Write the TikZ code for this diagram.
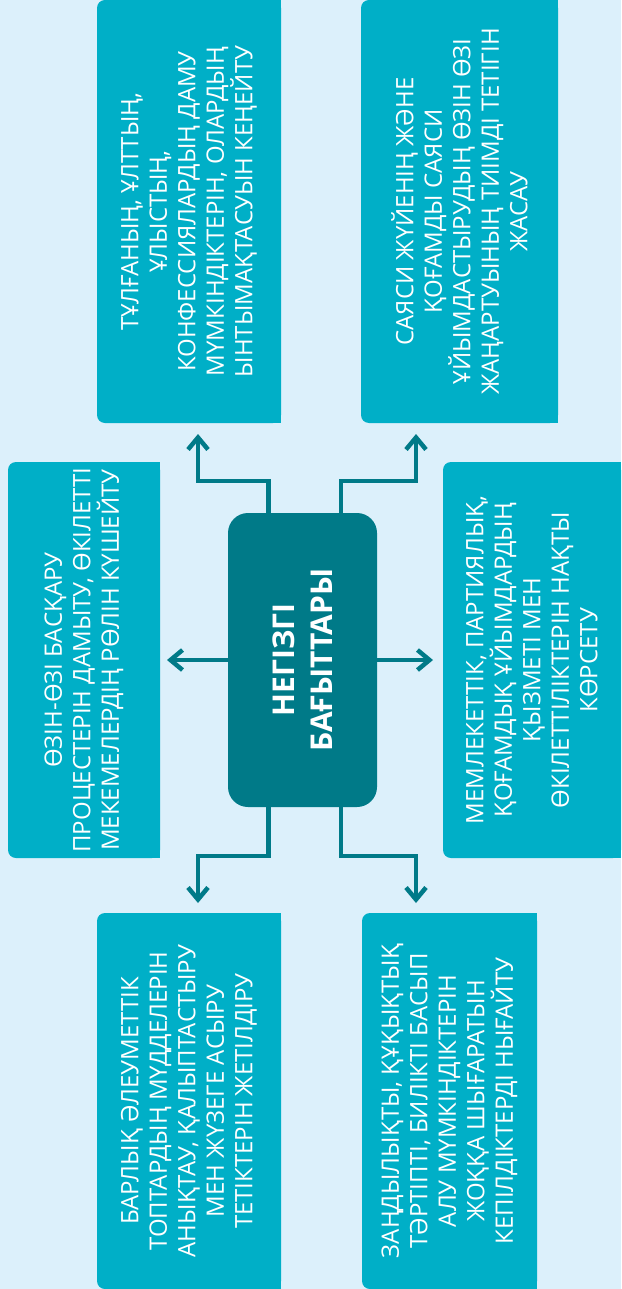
\documentclass[tikz,border=0pt]{standalone}
\usepackage{fontspec}
\setmainfont{Open Sans}
\usetikzlibrary{arrows.meta,backgrounds}
\definecolor{pagecol}{HTML}{DCF0FB}
\definecolor{boxcol}{HTML}{00AFC7}
\definecolor{hubcol}{HTML}{007A88}

\begin{document}
\begin{tikzpicture}[x=1pt,y=-1pt,
  dir/.style={fill=boxcol,rounded corners=8pt,rotate=90,text=white,align=center,
    inner sep=0pt,outer sep=0pt,font=\fontsize{24}{28.5}\selectfont},
  hub/.style={fill=hubcol,rounded corners=20pt,rotate=90,text=white,align=center,
    inner sep=0pt,outer sep=0pt,font=\fontsize{30}{38}\selectfont\bfseries},
  link/.style={draw=hubcol,line width=4.5pt,-{Straight Barb[length=12pt,width=20pt]}}]
  \useasboundingbox (0,0) rectangle (621,1289);

  \node[hub,minimum width=294pt,minimum height=149pt] (hub) at (302.5,660) {НЕГІЗГІ\\БАҒЫТТАРЫ};

  \node[dir,minimum width=423pt,minimum height=184pt] (tl) at (189,211.5)
    {ТҰЛҒАНЫҢ, ҰЛТТЫҢ,\\ҰЛЫСТЫҢ,\\КОНФЕССИЯЛАРДЫҢ ДАМУ\\МҮМКІНДІКТЕРІН, ОЛАРДЫҢ\\ЫНТЫМАҚТАСУЫН КЕҢЕЙТУ};
  \node[dir,minimum width=423pt,minimum height=197pt] (tr) at (459.5,211.5)
    {САЯСИ ЖҮЙЕНІҢ ЖӘНЕ\\ҚОҒАМДЫ САЯСИ\\ҰЙЫМДАСТЫРУДЫҢ ӨЗІН ӨЗІ\\ЖАҢАРТУЫНЫҢ ТИІМДІ ТЕТІГІН\\ЖАСАУ};
  \node[dir,minimum width=396pt,minimum height=152pt] (ml) at (84,660)
    {ӨЗІН-ӨЗІ БАСҚАРУ\\ПРОЦЕСТЕРІН ДАМЫТУ, ӨКІЛЕТТІ\\МЕКЕМЕЛЕРДІҢ РӨЛІН КҮШЕЙТУ};
  \node[dir,minimum width=396pt,minimum height=178pt] (mr) at (532,660)
    {МЕМЛЕКЕТТІК, ПАРТИЯЛЫҚ,\\ҚОҒАМДЫҚ ҰЙЫМДАРДЫҢ\\ҚЫЗМЕТІ МЕН\\ӨКІЛЕТТІЛІКТЕРІН НАҚТЫ\\КӨРСЕТУ};
  \node[dir,minimum width=376pt,minimum height=184pt] (bl) at (189,1101)
    {БАРЛЫҚ ӘЛЕУМЕТТІК\\ТОПТАРДЫҢ МҮДДЕЛЕРІН\\АНЫҚТАУ, ҚАЛЫПТАСТЫРУ\\МЕН ЖҮЗЕГЕ АСЫРУ\\ТЕТІКТЕРІН ЖЕТІЛДІРУ};
  \node[dir,minimum width=376pt,minimum height=175pt] (br) at (449.5,1101)
    {ЗАҢДЫЛЫҚТЫ, ҚҰҚЫҚТЫҚ\\ТӘРТІПТІ, БИЛІКТІ БАСЫП\\АЛУ МҮМКІНДІКТЕРІН\\ЖОҚҚА ШЫҒАРАТЫН\\КЕПІЛДІКТЕРДІ НЫҒАЙТУ};

  % page and square right corners
  \begin{scope}[on background layer]
    \fill[pagecol] (0,0) rectangle (621,1289);
    \foreach \b in {tl,tr,ml,mr,bl,br}
      \fill[boxcol] (\b.south west) rectangle (\b.east);
  \end{scope}

  \draw[link] ([xshift=-34pt]hub.east) -- ++(0,-32) -| ([xshift=9pt,yshift=-11pt]tl.west);
  \draw[link] ([xshift=38.5pt]hub.east) -- ++(0,-32) -| ([xshift=-43.5pt,yshift=-11pt]tr.west);
  \draw[link] (hub.north) -- ([xshift=7pt]ml.south);
  \draw[link] (hub.south) -- ([xshift=-10pt]mr.north);
  \draw[link] ([xshift=-34pt]hub.west) -- ++(0,49) -| ([xshift=9pt,yshift=10pt]bl.east);
  \draw[link] ([xshift=38.5pt]hub.west) -- ++(0,49) -| ([xshift=-33.5pt,yshift=10pt]br.east);
\end{tikzpicture}
\end{document}
